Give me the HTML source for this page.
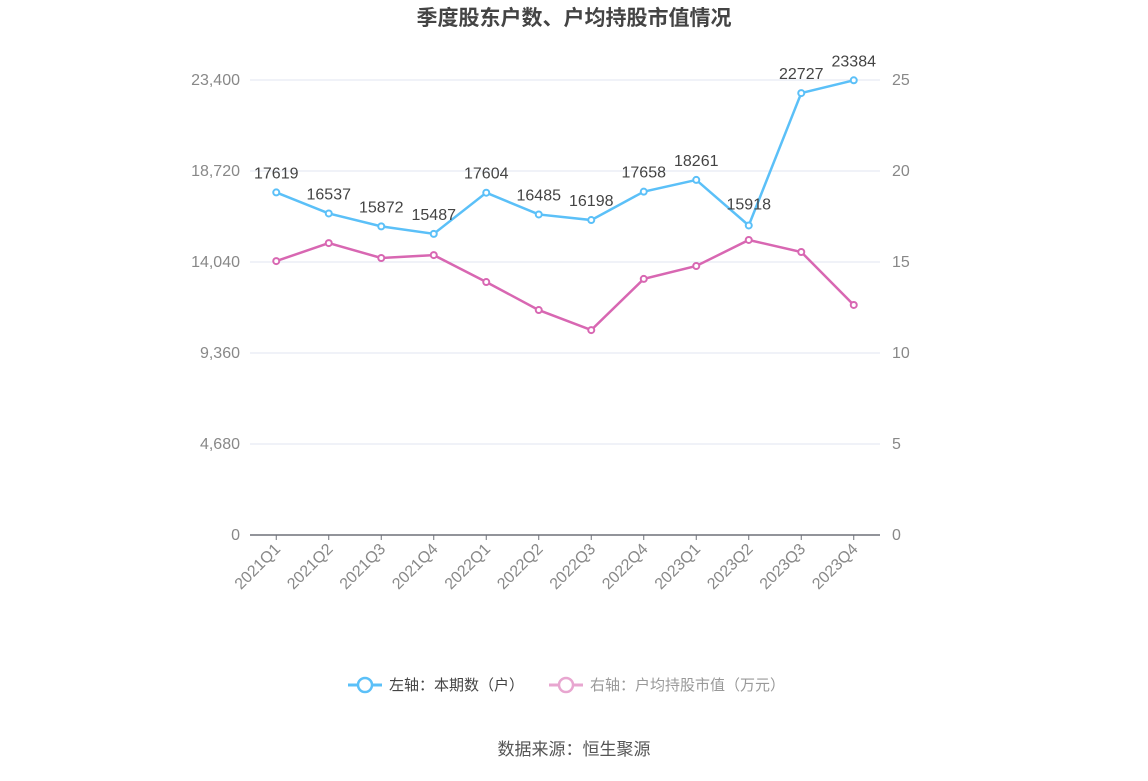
<!DOCTYPE html>
<html><head><meta charset="utf-8">
<style>
body{margin:0;background:#fff;}
svg text{font-family:"Liberation Sans","Noto Sans CJK SC",sans-serif;}
</style></head>
<body>
<svg id="chart" width="1148" height="776" xmlns="http://www.w3.org/2000/svg">
<text x="574" y="25" text-anchor="middle" font-size="21" font-weight="bold" fill="#444">季度股东户数、户均持股市值情况</text>
<g id="grid"></g>
<g id="axes"></g>
<g id="series"></g>
<g>
  <g>
    <line x1="348" y1="685" x2="382" y2="685" stroke="#5bc0f8" stroke-width="3"/>
    <circle cx="365" cy="685" r="7" fill="#fff" stroke="#5bc0f8" stroke-width="2.5"/>
    <text x="389" y="690" font-size="15" fill="#444">左轴：本期数（户）</text>
  </g>
  <g>
    <line x1="549" y1="685" x2="583" y2="685" stroke="#e8a6d0" stroke-width="3"/>
    <circle cx="566" cy="685" r="7" fill="#fff" stroke="#e8a6d0" stroke-width="2.5"/>
    <text x="590" y="690" font-size="15" fill="#999">右轴：户均持股市值（万元）</text>
  </g>
</g>
<text x="574" y="755" text-anchor="middle" font-size="17" fill="#555">数据来源：恒生聚源</text>
</svg>
<script>
const categories=["2021Q1","2021Q2","2021Q3","2021Q4","2022Q1","2022Q2","2022Q3","2022Q4","2023Q1","2023Q2","2023Q3","2023Q4"];
const holders=[17619,16537,15872,15487,17604,16485,16198,17658,18261,15918,22727,23384];
const avgValue=[15.05,16.04,15.22,15.38,13.9,12.36,11.26,14.07,14.78,16.21,15.55,12.64];
const leftTicks=[0,4680,9360,14040,18720,23400];
const leftTickLabels=["0","4,680","9,360","14,040","18,720","23,400"];
const rightTicks=[0,5,10,15,20,25];
const NS="http://www.w3.org/2000/svg";
const X0=250,X1=880,Y0=535,Y1=80;
const band=(X1-X0)/categories.length;
const xPos=i=>X0+band*(i+0.5);
const yL=v=>Y0-(v/23400)*(Y0-Y1);
const yR=v=>Y0-(v/25)*(Y0-Y1);
function mk(tag,attrs,parent,text){const e=document.createElementNS(NS,tag);for(const k in attrs)e.setAttribute(k,attrs[k]);if(text!==undefined)e.textContent=text;parent.appendChild(e);return e;}
const grid=document.getElementById('grid'),axes=document.getElementById('axes'),series=document.getElementById('series');
leftTicks.forEach((t,i)=>{
  const y=yL(t);
  if(t>0){const g=mk('line',{x1:X0,x2:X1,y1:y,y2:y,stroke:'#e0e6f1','stroke-width':1},grid);
  
  }
  const lt=mk('text',{x:240,y:y+5,'text-anchor':'end','font-size':16,fill:'#888'},axes,leftTickLabels[i]);
  
  
});
rightTicks.forEach(t=>{
  const rt=mk('text',{x:892,y:yR(t)+5,'text-anchor':'start','font-size':16,fill:'#888'},axes,String(t));
  
  
});
const ax=mk('line',{x1:X0,x2:X1,y1:Y0,y2:Y0,stroke:'#6e7079','stroke-width':1.5},axes);


categories.forEach((c,i)=>{
  const x=xPos(i);
  const tk=mk('line',{x1:x,x2:x,y1:Y0,y2:Y0+5,stroke:'#6e7079'},axes);
  
  
  const lb=mk('text',{x:x+5,y:Y0+15,'text-anchor':'end','font-size':16,fill:'#888',transform:`rotate(-45 ${x+5} ${Y0+15})`},axes,c);
  
  
});
function drawLine(vals,yf,color,name,labels){
  const pts=vals.map((v,i)=>xPos(i)+','+yf(v)).join(' ');
  const pl=mk('polyline',{points:pts,fill:'none',stroke:color,'stroke-width':2.5},series);
  
  
  vals.forEach((v,i)=>{
    const c=mk('circle',{cx:xPos(i),cy:yf(v),r:3,fill:'#fff',stroke:color,'stroke-width':2},series);
    
    
    if(labels){
      const dy=(i===9)?-14:-14;
      const t=mk('text',{x:xPos(i),y:yf(v)+dy+(i===9?-2:0),'text-anchor':'middle','font-size':16,fill:'#444'},series,String(v));
      
      
    }
  });
}
drawLine(avgValue,yR,'#d867b2','avg-value',false);
drawLine(holders,yL,'#5bc0f8','holders',true);
</script>
</body></html>
